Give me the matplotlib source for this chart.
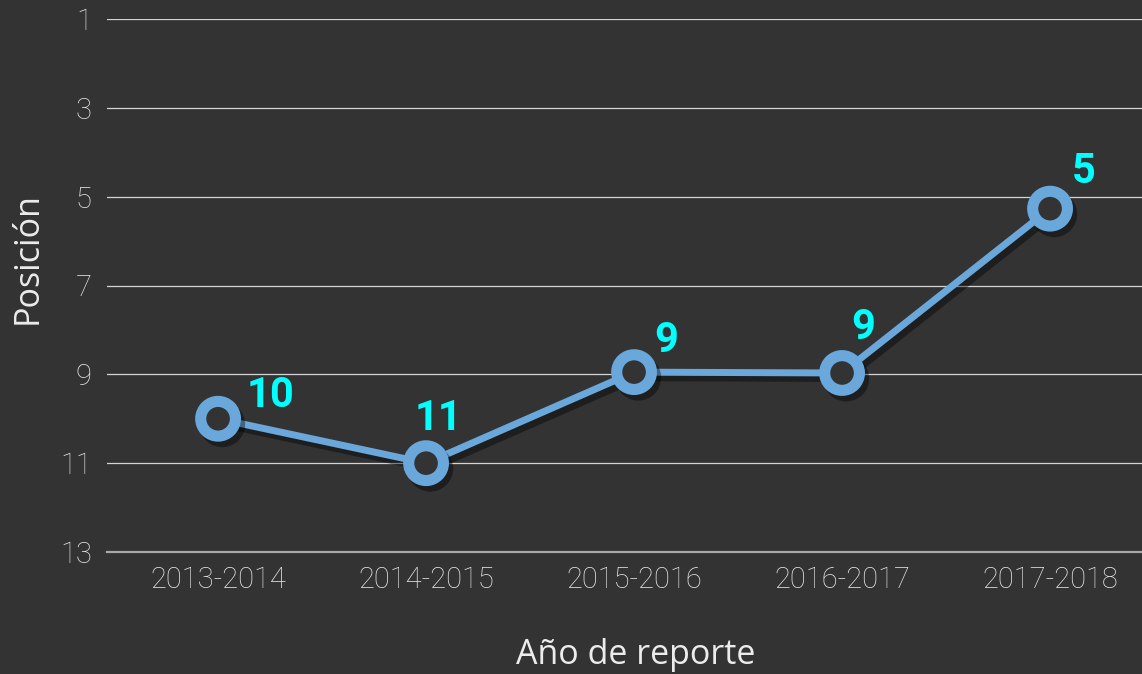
import matplotlib
matplotlib.use("Agg")
import matplotlib.pyplot as plt
import matplotlib.patheffects as pe

# datos
periodos = ["2013-2014", "2014-2015", "2015-2016", "2016-2017", "2017-2018"]
posicion = [10.0, 11.0, 8.95, 8.97, 5.27]
etiquetas = ["10", "11", "9", "9", "5"]
yticks = [1, 3, 5, 7, 9, 11, 13]

bg = "#333333"
azul = "#6aa8dc"
cian = "#00ffff"

fig = plt.figure(figsize=(11.42, 6.74), dpi=100, facecolor=bg)
ax = fig.add_axes([107 / 1142, 1 - 552 / 674, 1 - 107 / 1142, 533 / 674])
ax.set_facecolor(bg)

x = list(range(len(periodos)))
ax.plot(x, posicion, color=azul, lw=5, marker="o", ms=25, mew=8,
        mfc=bg, mec=azul, zorder=5, clip_on=False,
        path_effects=[pe.SimpleLineShadow(offset=(3, -4), shadow_color="black", alpha=0.4),
                      pe.Normal()])

# offsets de las etiquetas (en puntos)
offs = [(38, 17), (9, 32), (23, 23), (15, 33), (24, 27)]
for xi, yi, lab, o in zip(x, posicion, etiquetas, offs):
    ax.annotate(lab, (xi, yi), xytext=o, textcoords="offset points",
                ha="center", va="center", color=cian, fontsize=30,
                fontweight="bold", family="Roboto", zorder=6)

ax.set_ylim(13, 1)
ax.set_xlim(-0.534, 4.442)
ax.set_yticks(yticks)
ax.set_xticks(x)
ax.set_xticklabels(periodos)
ax.grid(axis="y", color="#d4d4d4", lw=0.9)
ax.set_axisbelow(True)
for s in ["top", "right", "left"]:
    ax.spines[s].set_visible(False)
ax.spines["bottom"].set_color("#a8a8a8")
ax.spines["bottom"].set_linewidth(1.6)
ax.tick_params(length=0, colors="#e6e6e6", labelsize=21)
ax.tick_params(axis="y", pad=11)
ax.tick_params(axis="x", pad=10)
for t in ax.get_xticklabels() + ax.get_yticklabels():
    t.set_family("Roboto")
    t.set_fontweight("light")

ax.set_xlabel("Año de reporte", color="#ececec", fontsize=24.5, family="Open Sans")
ax.set_ylabel("Posición", color="#ececec", fontsize=24.5, family="Open Sans")
ax.xaxis.set_label_coords(0.511, -0.193)
ax.xaxis.label.set_va("center")
ax.yaxis.set_label_coords(-0.0763, 0.552)
ax.yaxis.label.set_va("center")

fig.savefig("out.png", dpi=100, facecolor=bg)
